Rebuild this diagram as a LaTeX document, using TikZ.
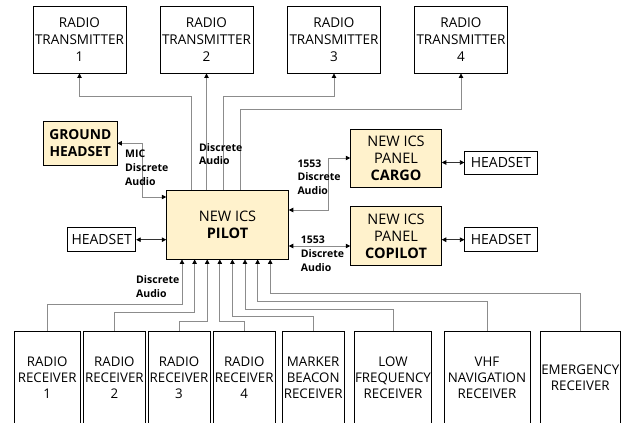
\documentclass[tikz,border=0pt]{standalone}
\usepackage{fontspec}
\setmainfont{Open Sans}
\usetikzlibrary{arrows.meta}
\definecolor{icsfill}{HTML}{FFF2CC}
\definecolor{linkgray}{RGB}{140,140,140}
\tikzset{
  unitbox/.style={draw=black, line width=.9pt, inner sep=.5pt, align=center, font=\fontsize{13.5}{17}\selectfont},
  icsbox/.style={unitbox, fill=icsfill},
  rxbox/.style={unitbox, font=\fontsize{13.3}{16}\selectfont, minimum height=94pt},
  feed/.style={draw=linkgray, line width=.8pt, -{Triangle[length=4.5pt,width=4.5pt,color=black]}},
  duplex/.style={draw=linkgray, line width=.8pt, {Triangle[length=4.5pt,width=4.5pt,color=black]}-{Triangle[length=4.5pt,width=4.5pt,color=black]}},
  hsduplex/.style={duplex, draw=black!80},
  sig/.style={font=\bfseries\fontsize{10.5}{13.7}\selectfont, align=left, inner sep=0pt}
}

\begin{document}
\begin{tikzpicture}[x=1pt, y=-1pt]
\useasboundingbox (0,0) rectangle (627,423);

\node[unitbox, minimum width=93pt, minimum height=67pt] (tx1) at (79.5,39.5) {RADIO\\TRANSMITTER\\1};
\node[unitbox, minimum width=93pt, minimum height=67pt] (tx2) at (206.5,39.5) {RADIO\\TRANSMITTER\\2};
\node[unitbox, minimum width=93pt, minimum height=67pt] (tx3) at (334,39.5) {RADIO\\TRANSMITTER\\3};
\node[unitbox, minimum width=93pt, minimum height=67pt] (tx4) at (461,39.5) {RADIO\\TRANSMITTER\\4};

\node[icsbox, minimum width=121.6pt, minimum height=69pt, font=\fontsize{14.5}{17}\selectfont] (pilot) at (227.5,224.5) {NEW ICS\\\textbf{PILOT}};
\node[icsbox, minimum width=73.3pt, minimum height=43.3pt, font=\bfseries\fontsize{13.8}{17}\selectfont] (gnd) at (80.3,143.3) {GROUND\\HEADSET};
\node[unitbox, minimum width=68pt, minimum height=24pt, font=\fontsize{14}{16}\selectfont] (hsl) at (101.7,239.7) {HEADSET};

\node[icsbox, minimum width=90.6pt, minimum height=58pt, font=\fontsize{14.5}{17}\selectfont] (cargo) at (396,158) {NEW ICS\\PANEL\\\textbf{CARGO}};
\node[icsbox, minimum width=90.6pt, minimum height=59pt, font=\fontsize{14.5}{17}\selectfont] (copilot) at (396,236.2) {NEW ICS\\PANEL\\\textbf{COPILOT}};
\node[unitbox, minimum width=72.3pt, minimum height=23pt, font=\fontsize{14}{16}\selectfont] (hsc) at (501,162.5) {HEADSET};
\node[unitbox, minimum width=72.3pt, minimum height=24pt, font=\fontsize{14}{16}\selectfont] (hsp) at (501,239.7) {HEADSET};

\node[rxbox, minimum width=65.7pt] (rx1) at (47.2,378) {RADIO\\RECEIVER\\1};
\node[rxbox, minimum width=61.8pt] (rx2) at (114.4,378) {RADIO\\RECEIVER\\2};
\node[rxbox, minimum width=62pt] (rx3) at (179,378) {RADIO\\RECEIVER\\3};
\node[rxbox, minimum width=61.7pt] (rx4) at (244.2,378) {RADIO\\RECEIVER\\4};
\node[rxbox, minimum width=62.5pt] (mkr) at (313.2,378) {MARKER\\BEACON\\RECEIVER};
\node[rxbox, minimum width=76pt] (lf) at (393,378) {LOW\\FREQUENCY\\RECEIVER};
\node[rxbox, minimum width=86pt] (vhf) at (487,378) {VHF\\NAVIGATION\\RECEIVER};
\node[rxbox, minimum width=80.7pt] (emg) at (580.3,378) {EMERGENCY\\RECEIVER};

% transmitters
\draw[feed] ([xshift=-36.5pt]pilot.north) -- ++(0,-93.3) -| (tx1.south);
\draw[feed] (tx2.south |- pilot.north) -- (tx2.south);
\draw[feed] ([xshift=-4.5pt]pilot.north) -- ++(0,-93.3) -| (tx3.south);
\draw[feed] ([xshift=12.5pt]pilot.north) -- ++(0,-80) -| (tx4.south);

% headsets and panels
\draw[duplex] ([yshift=27.5pt]pilot.west) -- ++(-24,0) |- (gnd.east);
\draw[hsduplex] (hsl.east) -- (hsl.east -| pilot.west);
\draw[duplex] ([yshift=14.5pt]pilot.east) -- ++(39.4,0) |- (cargo.west);
\draw[duplex] ([yshift=-21.5pt]pilot.east) -- ([yshift=-21.5pt]pilot.east -| copilot.west);
\draw[hsduplex] (hsc.west -| cargo.east) -- (hsc.west);
\draw[hsduplex] (hsp.west -| copilot.east) -- (hsp.west);

% receivers
\draw[feed] (rx1.north) -- ++(0,-26) -| ([xshift=-45.5pt]pilot.south);
\draw[feed] (rx2.north) -- ++(0,-17.7) -| ([xshift=-32.9pt]pilot.south);
\draw[feed] (rx3.north) -- ++(0,-9.3) -| ([xshift=-20.3pt]pilot.south);
\draw[feed] (rx4.north) -- ++(0,-9.3) -| ([xshift=-7.7pt]pilot.south);
\draw[feed] (mkr.north) -- ++(0,-14.5) -| ([xshift=4.9pt]pilot.south);
\draw[feed] (lf.north) -- ++(0,-21.5) -| ([xshift=17.5pt]pilot.south);
\draw[feed] (vhf.north) -- ++(0,-29) -| ([xshift=30.1pt]pilot.south);
\draw[feed] (emg.north) -- ++(0,-37) -| ([xshift=42.7pt]pilot.south);

\node[sig, anchor=west] (lbtx) at (199,154.2) {Discrete\\Audio};
\node[sig, anchor=west] (lbmic) at (125,167.7) {MIC\\Discrete\\Audio};
\node[sig, anchor=west] (lbcargo) at (297.3,177) {1553\\Discrete\\Audio};
\node[sig, anchor=west] (lbcop) at (300.7,253.7) {1553\\Discrete\\Audio};
\node[sig, anchor=west] (lbrx) at (136,286.7) {Discrete\\Audio};
\end{tikzpicture}
\end{document}
